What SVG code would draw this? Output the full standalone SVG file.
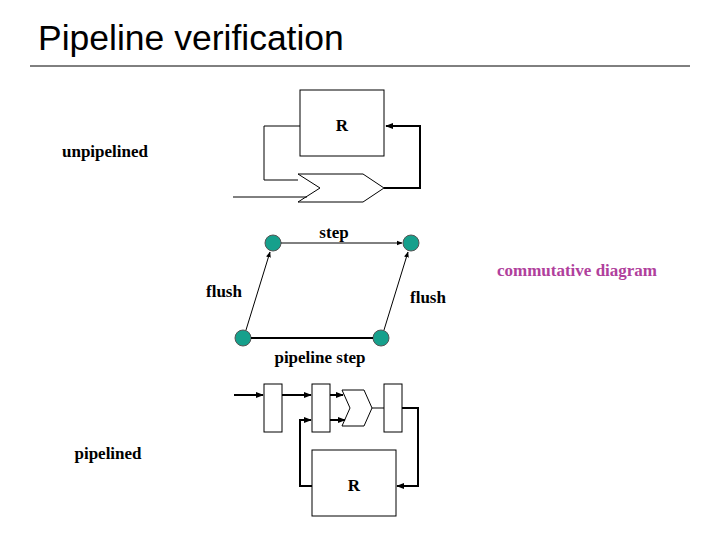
<svg xmlns="http://www.w3.org/2000/svg" width="720" height="540" viewBox="0 0 720 540">
<style>
.t{font-family:"Liberation Serif",serif;font-size:17px;font-weight:bold;fill:#000}
.s{fill:#fff;stroke:#000;stroke-width:1}
.l{fill:none;stroke:#000;stroke-width:1}
.w{fill:none;stroke:#000;stroke-width:2}
.n{fill:#16a08c;stroke:#555;stroke-width:1}
</style>
<defs>
<marker id="a" viewBox="0 0 10 10" refX="9" refY="5" markerWidth="6" markerHeight="6" orient="auto"><path d="M0,1 L10,5 L0,9 z" fill="#000"/></marker>
<marker id="ab" viewBox="0 0 10 10" refX="9" refY="5" markerWidth="4" markerHeight="4" orient="auto"><path d="M0,1 L10,5 L0,9 z" fill="#000"/></marker>
</defs>
<rect width="720" height="540" fill="#fff"/>
<text x="38" y="50" style="font-family:'Liberation Sans',sans-serif;font-size:35.5px">Pipeline verification</text>
<line x1="30" y1="66" x2="690" y2="66" stroke="#000" stroke-width="1"/>
<g id="labels">
<text class="t" x="105" y="157" text-anchor="middle">unpipelined</text>
<text class="t" x="108" y="459" text-anchor="middle">pipelined</text>
<text class="t" x="577" y="276" text-anchor="middle" style="fill:#b0409c">commutative diagram</text>
</g>
<g id="R1"><rect class="s" x="300" y="90" width="84" height="66"/><text class="t" x="342" y="131" text-anchor="middle">R</text></g>
<g id="chev1"><path class="s" d="M298,174 L363,174 L384,188 L363,202 L298,202 L320,188 Z"/></g>
<g id="R2"><rect class="s" x="312" y="450" width="84" height="66"/><text class="t" x="354" y="491" text-anchor="middle">R</text></g>
<g id="reg1"><rect class="s" x="264" y="384" width="18" height="48"/></g>
<g id="reg2"><rect class="s" x="312" y="384" width="18" height="48"/></g>
<g id="chev2"><path class="s" d="M342,390 L364,390 L372,408 L364,426 L342,426 L350,408 Z"/></g>
<g id="reg3"><rect class="s" x="384" y="384" width="18" height="48"/></g>
<g id="n1"><circle class="n" cx="273" cy="243" r="8"/></g>
<g id="n2"><circle class="n" cx="411" cy="243" r="8"/></g>
<g id="n3"><circle class="n" cx="243" cy="338" r="8"/></g>
<g id="n4"><circle class="n" cx="381" cy="338" r="8"/></g>
<g id="nl">
<text class="t" x="334" y="238" text-anchor="middle">step</text>
<text class="t" x="224" y="297" text-anchor="middle">flush</text>
<text class="t" x="428" y="303" text-anchor="middle">flush</text>
<text class="t" x="320" y="363" text-anchor="middle">pipeline step</text>
</g>
<g id="connectors">
<polyline class="l" points="300,126 264,126 264,180 298,180"/>
<line class="l" x1="233" y1="197" x2="307" y2="197"/>
<polyline class="w" points="384,188 420,188 420,126 386,126" marker-end="url(#ab)"/>
<line class="l" x1="281" y1="243" x2="402" y2="243" marker-end="url(#a)"/>
<line class="l" x1="246" y1="330" x2="270" y2="252" marker-end="url(#a)"/>
<line class="w" x1="251" y1="338" x2="373" y2="338"/>
<line class="l" x1="384" y1="330" x2="408" y2="252" marker-end="url(#a)"/>
<line class="w" x1="234" y1="395" x2="263" y2="395" marker-end="url(#ab)"/>
<line class="w" x1="282" y1="395" x2="311" y2="395" marker-end="url(#ab)"/>
<line class="w" x1="330" y1="395" x2="343" y2="395" marker-end="url(#ab)"/>
<line class="w" x1="330" y1="420" x2="345" y2="420" marker-end="url(#ab)"/>
<polyline class="w" points="312,486 300,486 300,420 311,420" marker-end="url(#ab)"/>
<line class="l" x1="372" y1="408" x2="384" y2="408"/>
<polyline class="w" points="402,408 418,408 418,486 397,486" marker-end="url(#ab)"/>
</g>
</svg>
